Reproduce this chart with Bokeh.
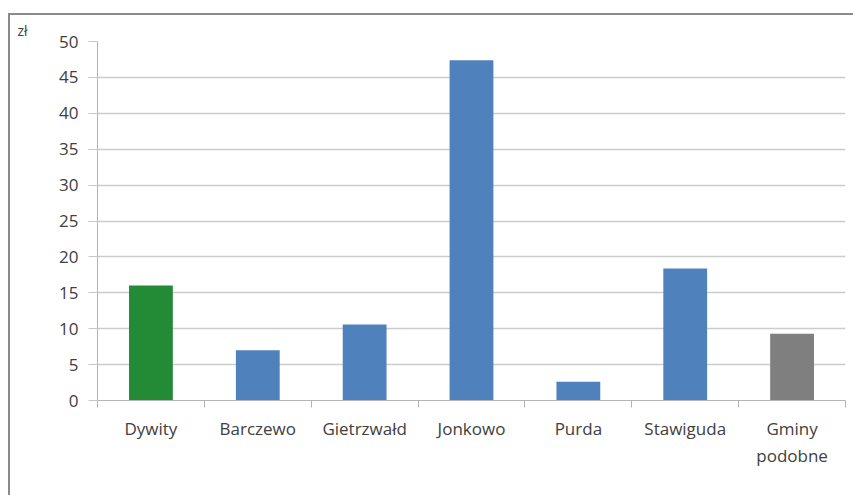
from bokeh.plotting import figure
from bokeh.models import Range1d, FixedTicker
from bokeh.embed import file_html
from bokeh.resources import INLINE

# Average amount per municipality, in zł
categories = ["Dywity", "Barczewo", "Gietrzwałd", "Jonkowo", "Purda", "Stawiguda", "Gminy\npodobne"]
values = [16.0, 7.0, 10.6, 47.4, 2.6, 18.4, 9.3]
bar_colors = ["#238a35", "#4f81bd", "#4f81bd", "#4f81bd", "#4f81bd", "#4f81bd", "#7f7f7f"]
y_ticks = [0, 5, 10, 15, 20, 25, 30, 35, 40, 45, 50]
unit = "zł"

FONT = "Open Sans"
TEXT = "#404040"

centers = [i + 0.5 for i in range(len(categories))]
bounds = list(range(len(categories) + 1))

p = figure(width=845, height=482, output_backend="svg", toolbar_location=None,
           x_range=Range1d(0, len(categories)), y_range=Range1d(0, 50),
           min_border_left=87, min_border_right=10, min_border_top=26, min_border_bottom=97)
p.margin = (13, 0, 0, 8)
p.styles = {"border-left": "2px solid #8a8a8a", "border-top": "2px solid #8a8a8a"}
p.outline_line_color = None

# unit shown as a small left-aligned title in the top-left corner
p.title.text = unit
p.title.align = "left"
p.title.offset = -80
p.title.standoff = 3
p.title.text_font = FONT
p.title.text_font_size = "14px"
p.title.text_font_style = "normal"
p.title.text_color = TEXT

p.vbar(x=centers, top=values, width=0.41, color=bar_colors, line_color=None)

# y axis
p.yaxis.ticker = FixedTicker(ticks=y_ticks)
p.yaxis.axis_line_color = "#b4b4b4"
p.yaxis.major_tick_line_color = "#c8c8c8"
p.yaxis.major_tick_out = 9
p.yaxis.major_tick_in = 0
p.yaxis.minor_tick_line_color = None
p.yaxis.major_label_standoff = 10
p.yaxis.major_label_text_font = FONT
p.yaxis.major_label_text_font_size = "17px"
p.yaxis.major_label_text_color = TEXT

# x axis: labels at bar centres, tick marks between categories
p.xaxis.ticker = FixedTicker(ticks=centers, minor_ticks=bounds)
p.xaxis.major_label_overrides = {c: name for c, name in zip(centers, categories)}
p.xaxis.axis_line_color = "#b4b4b4"
p.xaxis.major_tick_line_color = None
p.xaxis.major_tick_out = 0
p.xaxis.major_tick_in = 0
p.xaxis.minor_tick_line_color = "#b4b4b4"
p.xaxis.minor_tick_out = 7
p.xaxis.minor_tick_in = 0
p.xaxis.major_label_standoff = 9
p.xaxis.major_label_text_font = FONT
p.xaxis.major_label_text_font_size = "17px"
p.xaxis.major_label_text_color = TEXT

p.xgrid.grid_line_color = None
p.ygrid.ticker = FixedTicker(ticks=y_ticks)
p.ygrid.grid_line_color = "#cccccc"
p.ygrid.grid_line_width = 1.5

open("out.html", "w").write(file_html(p, INLINE))
